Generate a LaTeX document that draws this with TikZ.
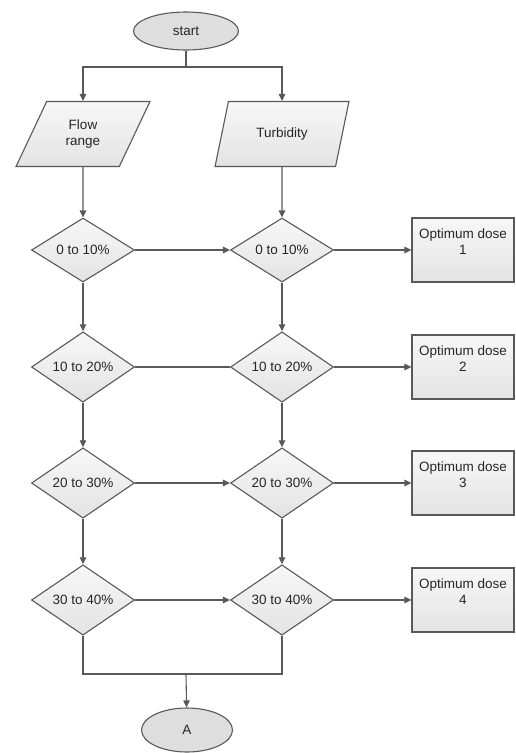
\documentclass[tikz,border=0pt]{standalone}
\usepackage{fontspec}
\setmainfont{Liberation Sans}
\usetikzlibrary{shapes.geometric,arrows.meta}

\begin{document}
\begin{tikzpicture}[x=1pt,y=-1pt,
    every node/.style={font=\fontsize{13.5}{16}\selectfont,text=black!85},
    line/.style={draw=black!65,line width=1.1pt},
    arr/.style={line,-{Triangle[length=7pt,width=6.5pt]}},
    term/.style={ellipse,draw=black!65,line width=1.1pt,fill=black!13,minimum width=105pt,minimum height=38pt,inner sep=0pt},
    io/.style={trapezium,trapezium left angle=63,trapezium right angle=117,trapezium stretches=true,draw=black!65,line width=1.1pt,top color=black!3,bottom color=black!11,minimum width=134pt,minimum height=65pt,align=center,inner sep=0pt},
    test/.style={diamond,draw=black!65,line width=1.1pt,top color=black!3,bottom color=black!11,minimum width=103pt,minimum height=64pt,inner sep=0pt},
    dose/.style={rectangle,draw=black!65,line width=1.1pt,top color=black!3,bottom color=black!11,minimum width=102pt,minimum height=64pt,align=center,inner sep=0pt}]
    \useasboundingbox (0,0) rectangle (515,753);
    \node[term] (start) at (186,31) {start};
    \node[io] (flow) at (83,134) {Flow\\range};
    \node[io] (turb) at (282,134) {Turbidity};
    \foreach \r/\y/\t in {1/250/0 to 10\%,2/367/10 to 20\%,3/483/20 to 30\%,4/600/30 to 40\%} {
        \node[test] (f\r) at (83,\y) {\t};
        \node[test] (t\r) at (282,\y) {\t};
        \node[dose] (d\r) at (463,\y) {Optimum dose\\\r\\\mbox{}};
    }
    \node[term,minimum width=91pt,minimum height=44pt] (A) at (187,730) {A};
    \coordinate (split) at (186,67);
    \coordinate (join) at (186,674);
    \draw[line] (start) -- (split);
    \draw[arr] (split) -| (flow);
    \draw[arr] (split) -| (turb);
    \draw[arr] (flow) -- (f1);
    \draw[arr] (turb) -- (t1);
    \foreach \r/\s in {1/2,2/3,3/4} {
        \draw[arr] (f\r) -- (f\s);
        \draw[arr] (t\r) -- (t\s);
    }
    \foreach \r in {1,3,4} \draw[arr] (f\r) -- (t\r);
    \draw[line] (f2) -- (t2);
    \foreach \r in {1,...,4} \draw[arr] (t\r) -- (d\r);
    \draw[line] (f4) |- (join) -| (t4);
    \draw[arr] (join) -- (A);
\end{tikzpicture}
\end{document}
